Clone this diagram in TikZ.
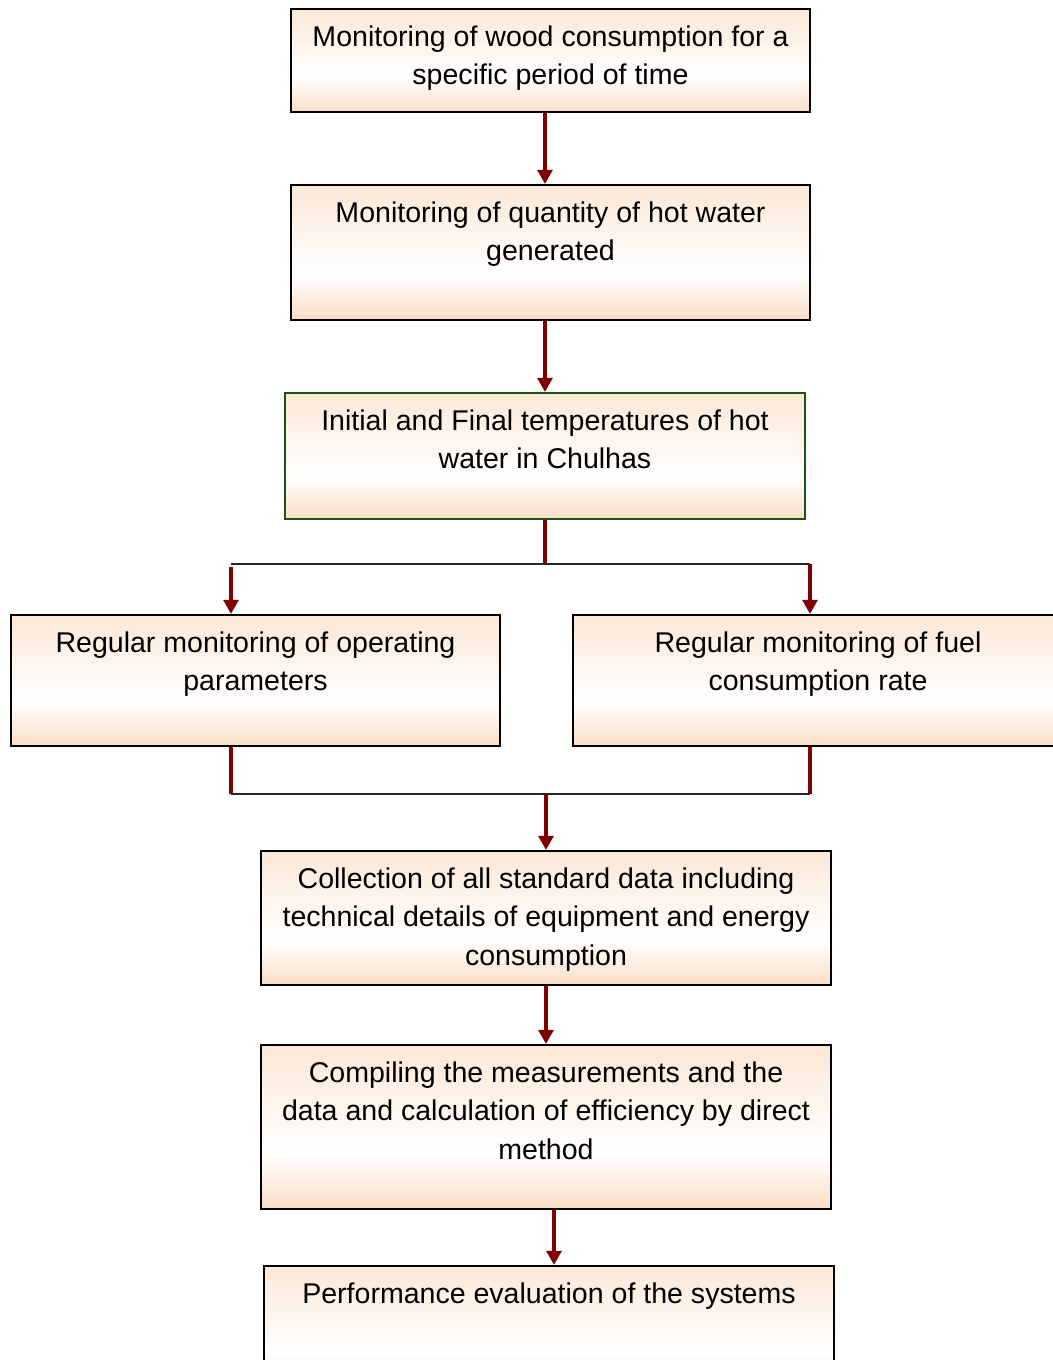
\documentclass[tikz,border=0pt]{standalone}
\usepackage{fontspec}
\setmainfont{Liberation Sans}
\usetikzlibrary{arrows.meta,positioning}

\definecolor{peach}{RGB}{252,232,215}
\definecolor{peachdark}{RGB}{250,222,198}
\definecolor{flowred}{RGB}{128,0,0}
\definecolor{boxgreen}{RGB}{30,80,20}
\pgfdeclareverticalshading{peachfade}{100bp}{color(0bp)=(peachdark); color(25bp)=(peachdark); color(42bp)=(white); color(75bp)=(peach); color(100bp)=(peach)}

\begin{document}
\begin{tikzpicture}[x=0.025cm,y=-0.025cm,>={Triangle[width=0.37cm,length=0.35cm]},
flow/.style={->,draw=flowred,line width=2.4pt},
busline/.style={draw=black!85,line width=1.5pt}]
\tikzstyle{stepbox}=[rectangle,draw=black,line width=1.5pt,shading=peachfade,inner sep=0pt]
\tikzstyle{steptext}=[align=center,inner sep=0pt,font=\fontsize{20.3}{27.3}\selectfont]

\useasboundingbox (0,0) rectangle (1052,1360);

% boxes
\node[stepbox,minimum width=12.975cm,minimum height=2.575cm] (wood) at (550.5,60.5) {};
\node[stepbox,minimum width=12.975cm,minimum height=3.375cm] (water) at (550.5,252.5) {};
\node[stepbox,draw=boxgreen,minimum width=13cm,minimum height=3.15cm] (temp) at (545,456) {};
\node[stepbox,minimum width=12.225cm,minimum height=3.275cm] (oper) at (255.5,680.5) {};
\node[stepbox,minimum width=12.25cm,minimum height=3.275cm] (fuel) at (818,680.5) {};
\node[stepbox,minimum width=14.25cm,minimum height=3.35cm] (collect) at (546,918) {};
\node[stepbox,minimum width=14.25cm,minimum height=4.1cm] (compile) at (546,1127) {};
\node[stepbox,minimum width=14.25cm,minimum height=3.25cm] (perform) at (549,1331) {};

% texts
\node[steptext,below=0.44cm of wood.north] (woodtxt) {Monitoring of wood consumption for a\\specific period of time};
\node[steptext,below=0.44cm of water.north] (watertxt) {Monitoring of quantity of hot water\\generated};
\node[steptext,below=0.44cm of temp.north] (temptxt) {Initial and Final temperatures of hot\\water in Chulhas};
\node[steptext,below=0.44cm of oper.north] (opertxt) {Regular monitoring of operating\\parameters};
\node[steptext,below=0.44cm of fuel.north] (fueltxt) {Regular monitoring of fuel\\consumption rate};
\node[steptext,below=0.44cm of collect.north] (collecttxt) {Collection of all standard data including\\technical details of equipment and energy\\consumption};
\node[steptext,below=0.44cm of compile.north] (compiletxt) {Compiling the measurements and the\\data and calculation of efficiency by direct\\method};
\node[steptext,below=0.44cm of perform.north] (performtxt) {Performance evaluation of the systems};

\coordinate (splitL) at (231,564);
\coordinate (splitR) at (810,564);
\coordinate (mergeL) at (231,794);
\coordinate (mergeR) at (810,794);

% connectors
\draw[flow] (wood.south -| temp) -- (water.north -| temp);
\draw[flow] (water.south -| temp) -- (temp.north);
\draw[flow,-] (temp.south) -- (temp.south |- splitL);
\draw[busline] (splitL) -- (splitR);
\draw[flow] ([yshift=-0.08cm]splitL) -- (splitL |- oper.north);
\draw[flow] (splitR) -- (splitR |- fuel.north);
\draw[flow,-] (mergeL |- oper.south) -- (mergeL);
\draw[flow,-] (mergeR |- fuel.south) -- (mergeR);
\draw[busline] (mergeL) -- (mergeR);
\draw[flow] (collect.north |- mergeL) -- (collect.north);
\draw[flow] (collect.south) -- (compile.north);
\draw[flow] ([xshift=0.2cm]compile.south) -- ([xshift=0.2cm]compile.south |- perform.north);
\end{tikzpicture}
\end{document}
